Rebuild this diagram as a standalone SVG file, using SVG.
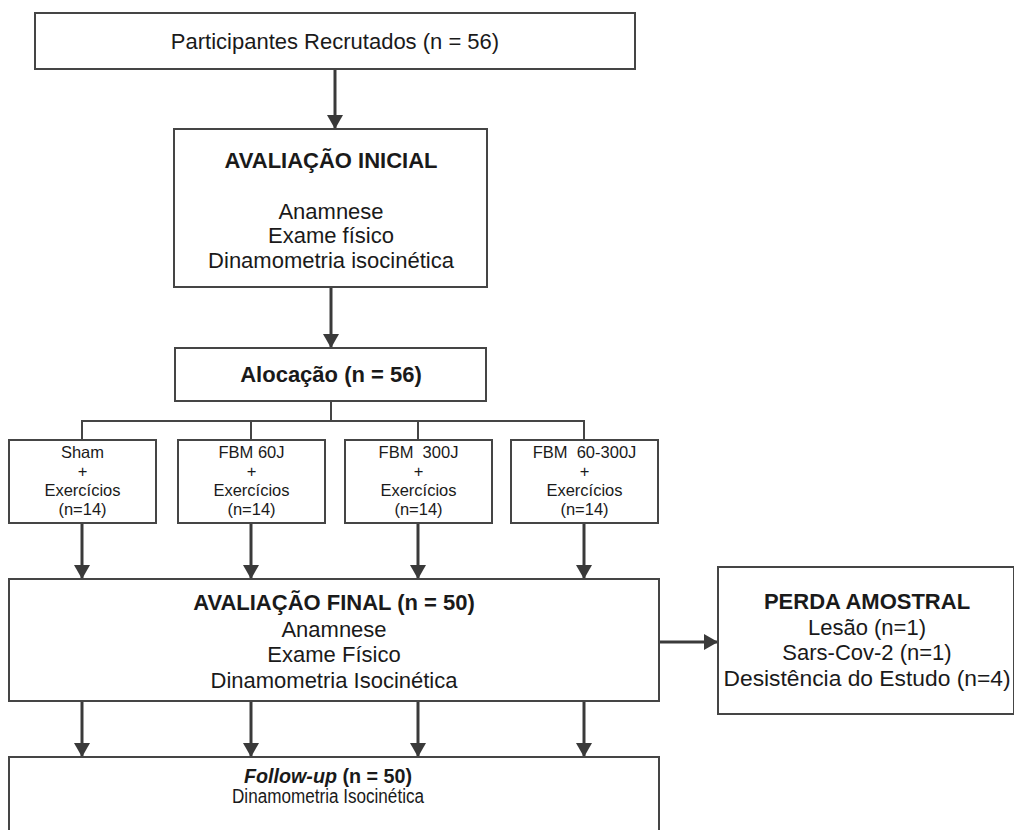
<svg xmlns="http://www.w3.org/2000/svg" width="1014" height="830" viewBox="0 0 1014 830">
  <defs>
    <marker id="arr" markerUnits="userSpaceOnUse" markerWidth="15" markerHeight="16" refX="14" refY="8" orient="auto" viewBox="0 0 15 16">
      <path d="M0,0 L14,8 L0,16 Z" fill="#3a3a3a"/>
    </marker>
  </defs>
  <style>
    .box { fill: #ffffff; stroke: #454545; stroke-width: 2; }
    .t { font-family: "Liberation Sans", Arial, sans-serif; fill: #1a1a1a; text-anchor: middle; }
    .big { font-size: 22px; }
    .b { font-weight: bold; }
    .sm { font-size: 16.5px; white-space: pre; }
    .c { stroke: #3a3a3a; stroke-width: 3; fill: none; marker-end: url(#arr); }
    .cl { stroke: #454545; stroke-width: 2; fill: none; }
  </style>
  <rect width="1014" height="830" fill="#ffffff"/>

  <g id="connectors">
    <line class="c" x1="335" y1="69" x2="335" y2="129"/>
    <line class="c" x1="331" y1="287" x2="331" y2="348"/>
    <polyline class="cl" points="331,401 331,421"/>
    <polyline class="cl" points="82,440 82,421 584,421 584,440"/>
    <line class="cl" x1="251" y1="421" x2="251" y2="440"/>
    <line class="cl" x1="418" y1="421" x2="418" y2="440"/>
    <line class="c" x1="82" y1="523" x2="82" y2="579"/>
    <line class="c" x1="251" y1="523" x2="251" y2="579"/>
    <line class="c" x1="418" y1="523" x2="418" y2="579"/>
    <line class="c" x1="584" y1="523" x2="584" y2="579"/>
    <line class="c" x1="82" y1="701" x2="82" y2="757"/>
    <line class="c" x1="251" y1="701" x2="251" y2="757"/>
    <line class="c" x1="418" y1="701" x2="418" y2="757"/>
    <line class="c" x1="584" y1="701" x2="584" y2="757"/>
    <line class="c" x1="659" y1="642" x2="718" y2="642"/>
  </g>

  <g id="recrutados">
    <rect class="box" x="35" y="13" width="600" height="56"/>
    <text class="t big" x="335" y="49">Participantes Recrutados (n = 56)</text>
  </g>

  <g id="avaliacao-inicial">
    <rect class="box" x="174" y="129" width="313" height="158"/>
    <text class="t big b" x="331" y="168">AVALIAÇÃO INICIAL</text>
    <text class="t big" x="331" y="219">Anamnese</text>
    <text class="t big" x="331" y="243">Exame físico</text>
    <text class="t big" x="331" y="268">Dinamometria isocinética</text>
  </g>

  <g id="alocacao">
    <rect class="box" x="175" y="348" width="311" height="53"/>
    <text class="t big b" x="331" y="382">Alocação (n = 56)</text>
  </g>

  <g id="sham">
    <rect class="box" x="9" y="440" width="147" height="83"/>
    <text class="t sm" x="82.5" y="458">Sham</text>
    <text class="t sm" x="82.5" y="477">+</text>
    <text class="t sm" x="82.5" y="496">Exercícios</text>
    <text class="t sm" x="82.5" y="515">(n=14)</text>
  </g>

  <g id="fbm60">
    <rect class="box" x="178" y="440" width="147" height="83"/>
    <text class="t sm" x="251.5" y="458">FBM 60J</text>
    <text class="t sm" x="251.5" y="477">+</text>
    <text class="t sm" x="251.5" y="496">Exercícios</text>
    <text class="t sm" x="251.5" y="515">(n=14)</text>
  </g>

  <g id="fbm300">
    <rect class="box" x="345" y="440" width="147" height="83"/>
    <text class="t sm" x="418.5" y="458" xml:space="preserve">FBM  300J</text>
    <text class="t sm" x="418.5" y="477">+</text>
    <text class="t sm" x="418.5" y="496">Exercícios</text>
    <text class="t sm" x="418.5" y="515">(n=14)</text>
  </g>

  <g id="fbm60-300">
    <rect class="box" x="511" y="440" width="147" height="83"/>
    <text class="t sm" x="584.5" y="458" xml:space="preserve">FBM  60-300J</text>
    <text class="t sm" x="584.5" y="477">+</text>
    <text class="t sm" x="584.5" y="496">Exercícios</text>
    <text class="t sm" x="584.5" y="515">(n=14)</text>
  </g>

  <g id="avaliacao-final">
    <rect class="box" x="9" y="579" width="650" height="122"/>
    <text class="t big b" x="334" y="610">AVALIAÇÃO FINAL (n = 50)</text>
    <text class="t big" x="334" y="637">Anamnese</text>
    <text class="t big" x="334" y="662">Exame Físico</text>
    <text class="t big" x="334" y="688">Dinamometria Isocinética</text>
  </g>

  <g id="perda-amostral">
    <rect class="box" x="718" y="567" width="296" height="147"/>
    <text class="t big b" x="867" y="609">PERDA AMOSTRAL</text>
    <text class="t big" x="867" y="635">Lesão (n=1)</text>
    <text class="t big" x="867" y="660">Sars-Cov-2 (n=1)</text>
    <text class="t big" x="867" y="686" textLength="287" lengthAdjust="spacingAndGlyphs">Desistência do Estudo (n=4)</text>
  </g>

  <g id="follow-up">
    <rect class="box" x="9" y="757" width="650" height="90"/>
    <text class="t b" x="328" y="783" font-size="20" textLength="168" lengthAdjust="spacingAndGlyphs"><tspan font-style="italic">Follow-up</tspan> (n = 50)</text>
    <text class="t" x="328" y="803" font-size="20" textLength="192" lengthAdjust="spacingAndGlyphs">Dinamometria Isocinética</text>
  </g>
</svg>
